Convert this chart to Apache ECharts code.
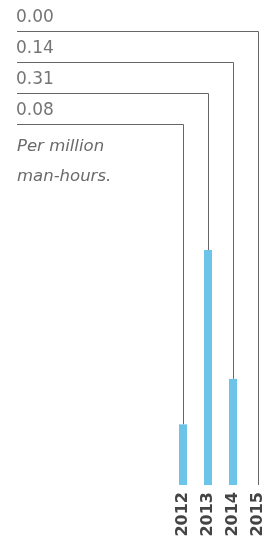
<!DOCTYPE html>
<html>
<head>
<meta charset="utf-8">
<script src="https://cdn.jsdelivr.net/npm/echarts@6/dist/echarts.min.js"></script>
<style>
  html, body { margin: 0; padding: 0; background: #fff; }
  #chart { width: 270px; height: 537px; }
</style>
</head>
<body>
<div id="chart"></div>
<script>
// 年份与数值 (per million man-hours)
const years = ['2012', '2013', '2014', '2015']
const values = [0.08, 0.31, 0.14, 0.00]
const unitNote = 'Per million\nman-hours.'

const chart = echarts.init(document.getElementById('chart'), null, { renderer: 'canvas' })

// 引线: 从左侧数值标签横向延伸, 再向下连到柱顶
function renderLeader (params, api) {
  const idx = api.value(0)
  const val = api.value(1)
  const top = api.coord([idx, val])
  const x = Math.round(top[0]) + 0.5
  const rowY = 31.5 + 31 * (years.length - 1 - idx)
  return {
    type: 'group',
    children: [
      {
        type: 'polyline',
        shape: { points: [[17, rowY], [x, rowY], [x, top[1]]] },
        style: { stroke: '#666', lineWidth: 1, fill: null }
      },
      {
        type: 'text',
        style: {
          x: 16,
          y: rowY - 13.5,
          text: val.toFixed(2),
          fill: '#757575',
          font: '17px "DejaVu Sans"',
          verticalAlign: 'middle'
        }
      }
    ]
  }
}

chart.setOption({
  animation: false,
  backgroundColor: '#fff',
  title: {
    text: unitNote,
    left: 17,
    top: 132,
    padding: 0,
    textStyle: {
      fontFamily: 'DejaVu Sans',
      fontStyle: 'italic',
      fontWeight: 'normal',
      fontSize: 16.5,
      lineHeight: 30,
      color: '#6a6a6a'
    }
  },
  grid: {
    left: 170.5,
    width: 100,
    top: 106,
    bottom: 52,
    outerBoundsMode: 'none'
  },
  xAxis: {
    type: 'category',
    data: years,
    axisLine: { show: false },
    axisTick: { show: false },
    axisLabel: {
      rotate: 90,
      margin: 7,
      fontFamily: 'DejaVu Sans',
      fontWeight: 'bold',
      fontSize: 16,
      color: '#444'
    }
  },
  yAxis: {
    type: 'value',
    min: 0,
    max: 0.5,
    show: false
  },
  series: [
    {
      type: 'custom',
      z: 1,
      renderItem: renderLeader,
      data: values.map((v, i) => [i, v]),
      encode: { x: 0, y: 1 }
    },
    {
      type: 'bar',
      z: 2,
      barWidth: 8,
      itemStyle: { color: '#6dc4e9' },
      data: values
    }
  ]
})
</script>
</body>
</html>
